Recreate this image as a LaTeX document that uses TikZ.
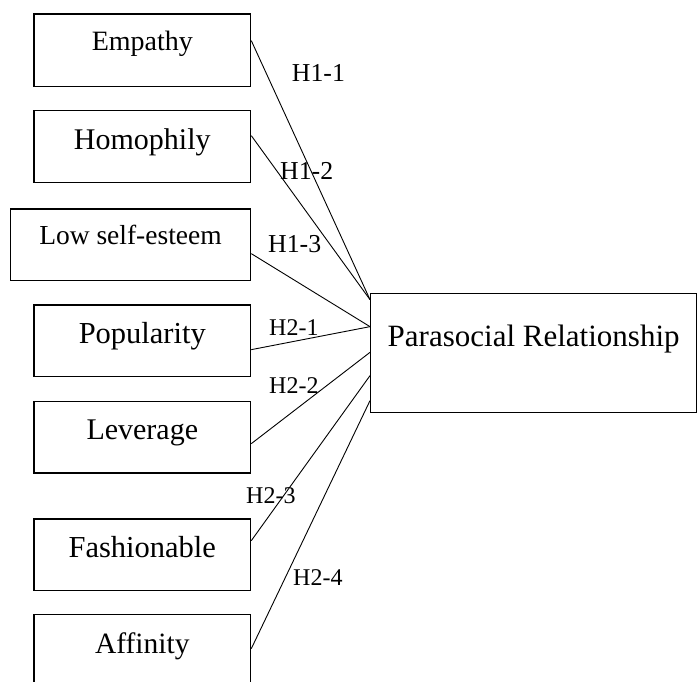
\documentclass[tikz,border=0pt]{standalone}
\usepackage{fontspec}
\setmainfont{Liberation Serif}
\newcommand{\fsz}[1]{\fontsize{#1}{#1}\selectfont}
\tikzset{
  fbox/.style={draw, line width=1.3pt, inner xsep=0pt, inner ysep=0pt, anchor=north west, minimum width=216.7pt},
  conn/.style={line width=0.9pt},
  hlab/.style={anchor=base west, inner sep=0pt}
}
\begin{document}
\begin{tikzpicture}[x=1pt,y=-1pt]
\useasboundingbox (0,0) rectangle (697,682);
\begin{scope}
\clip (-1,-1) rectangle (698,682);
\node[fbox, text height=36.7pt, text depth=35.7pt, font=\fsz{28}] (emp) at (33.3,13.3) {Empathy};
\node[fbox, text height=39.3pt, text depth=32.7pt, font=\fsz{30}] (hom) at (33.3,109.7) {Homophily};
\node[fbox, minimum width=240.3pt, text height=35.7pt, text depth=36pt, font=\fsz{27.5}] (low) at (9.7,208.3) {Low self-esteem};
\node[fbox, text height=38.4pt, text depth=33.3pt, font=\fsz{30.5}] (pop) at (33.3,304.3) {Popularity};
\node[fbox, text height=38pt, text depth=33.3pt, font=\fsz{30}] (lev) at (33.3,401) {Leverage};
\node[fbox, text height=38.4pt, text depth=33.3pt, font=\fsz{30.5}] (fas) at (33.3,518.3) {Fashionable};
\node[fbox, text height=39pt, text depth=33pt, font=\fsz{29.5}] (aff) at (33.3,613.7) {Affinity};
\node[fbox, minimum width=326pt, text height=53.3pt, text depth=65.7pt, font=\fsz{31}] (par) at (370,292.7) {Parasocial Relationship};

\draw[conn] ([yshift=9.5pt]emp.east) -- ([yshift=53.2pt]par.west);
\draw[conn] ([yshift=10.7pt]hom.east) -- ([yshift=53.2pt]par.west);
\draw[conn] ([yshift=-8.85pt]low.east) -- ([yshift=26.2pt]par.west);
\draw[conn] ([yshift=-8.85pt]pop.east) -- ([yshift=26.2pt]par.west);
\draw[conn] ([yshift=-6.35pt]lev.east) -- ([yshift=0.5pt]par.west);
\draw[conn] ([yshift=14.15pt]fas.east) -- ([yshift=-22.8pt]par.west);
\draw[conn] ([yshift=1.7pt]aff.east) -- ([yshift=-47.8pt]par.west);

\node[hlab, font=\fsz{25.8}] (h11) at (291.7,82) {H1-1};
\node[hlab, font=\fsz{25.8}] (h12) at (280,180) {H1-2};
\node[hlab, font=\fsz{25.8}] (h13) at (268,252) {H1-3};
\node[hlab, font=\fsz{24}] (h21) at (269,335) {H2-1};
\node[hlab, font=\fsz{24}] (h22) at (269,393) {H2-2};
\node[hlab, font=\fsz{24}] (h23) at (246,503) {H2-3};
\node[hlab, font=\fsz{24}] (h24) at (293,585) {H2-4};
\end{scope}
\end{tikzpicture}
\end{document}
